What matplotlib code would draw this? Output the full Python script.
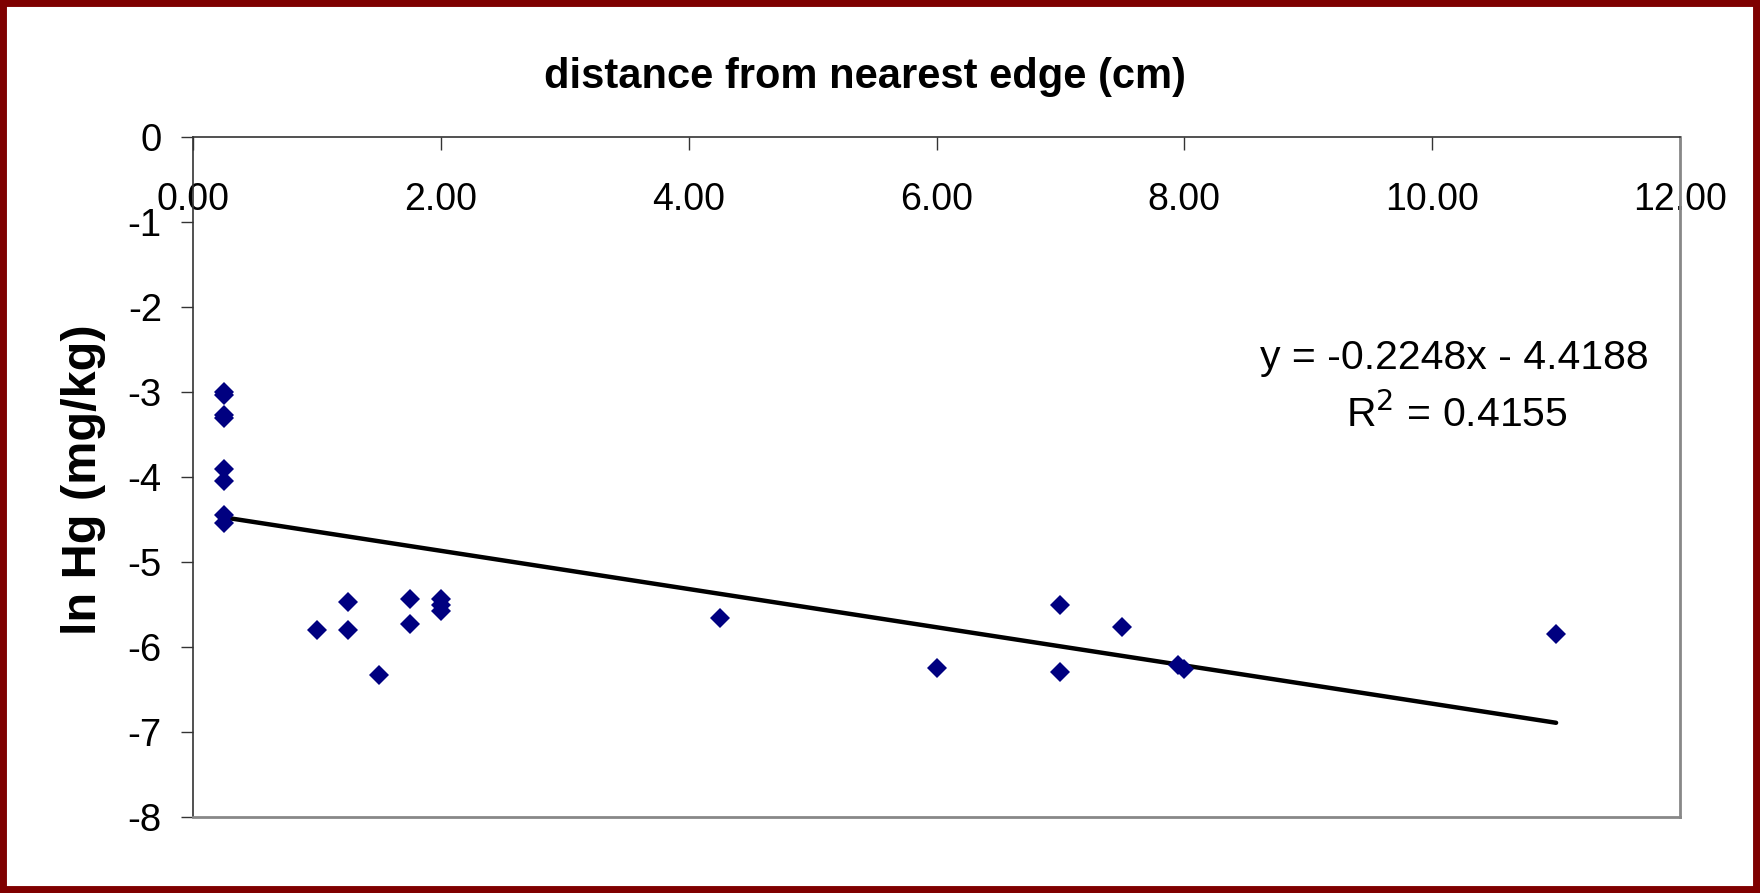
import numpy as np
import matplotlib.pyplot as plt
from matplotlib.patches import Rectangle

plt.rcParams['font.family'] = ['Liberation Sans', 'DejaVu Sans']
plt.rcParams['axes.unicode_minus'] = False

# distance from nearest edge (cm) and ln Hg (mg/kg)
dist = [0.25, 0.25, 0.25, 0.25, 0.25, 0.25, 0.25, 0.25,
        1.0, 1.25, 1.25, 1.5, 1.75, 1.75, 2.0, 2.0, 2.0,
        4.25, 6.0, 7.0, 7.0, 7.5, 7.95, 8.0, 11.0]
ln_hg = [-3.0, -3.03, -3.27, -3.3, -3.9, -4.05, -4.45, -4.54,
         -5.8, -5.47, -5.8, -6.33, -5.44, -5.73, -5.43, -5.5, -5.58,
         -5.66, -6.25, -5.51, -6.29, -5.77, -6.21, -6.26, -5.85]
slope, intercept = -0.2248, -4.4188
eq_text = "y = -0.2248x - 4.4188"
r2_text = "R$^2$ = 0.4155"
xticks = [0, 2, 4, 6, 8, 10, 12]
yticks = [0, -1, -2, -3, -4, -5, -6, -7, -8]

fig = plt.figure(figsize=(17.6, 8.93), dpi=100, facecolor='white')
ax = fig.add_axes([193/1760, 1-817/893, 1487/1760, 680/893])

ax.plot(dist, ln_hg, 'D', color='#000080', markersize=10, markeredgewidth=0, zorder=3)
xs = np.array([min(dist), max(dist)])
ax.plot(xs, slope*xs + intercept, color='black', linewidth=3.2, solid_capstyle='round', zorder=2)

ax.set_xlim(0, 12)
ax.set_ylim(-8, 0)
ax.set_xticks(xticks)
ax.set_xticklabels([f"{v:.2f}" for v in xticks])
ax.set_yticks(yticks)
ax.set_yticklabels([str(v) for v in yticks])

# Excel style: x axis sits at y=0 (top) with labels hanging below it
ax.xaxis.set_ticks_position('top')
ax.tick_params(axis='x', direction='in', length=9, width=1, color='#333333',
               labelsize=27, pad=-58, labeltop=True, labelbottom=False)
ax.tick_params(axis='y', direction='out', length=9, width=1, color='#333333',
               labelsize=27.5, pad=13.5)

for s in ['left', 'top']:
    ax.spines[s].set_color('#333333')
    ax.spines[s].set_linewidth(1.2)
for s in ['right', 'bottom']:
    ax.spines[s].set_color('#888888')
    ax.spines[s].set_linewidth(2)

ax.text(0.848, 0.675, eq_text, transform=ax.transAxes, ha='center', va='center', fontsize=29.5)
ax.text(0.850, 0.592, r2_text, transform=ax.transAxes, ha='center', va='center', fontsize=29.5)

fig.text(865/1760, 1-77/893, "distance from nearest edge (cm)", ha='center', va='center',
         fontsize=30, fontweight='bold')
fig.text(84/1760, 1-480/893, "ln Hg (mg/kg)", ha='center', va='center', rotation=90,
         fontsize=35, fontweight='bold')

fig.patches.append(Rectangle((0, 0), 1, 1, transform=fig.transFigure, fill=False,
                             edgecolor='#7f0000', linewidth=10, figure=fig))

fig.savefig('out.png', dpi=100, facecolor='white')
